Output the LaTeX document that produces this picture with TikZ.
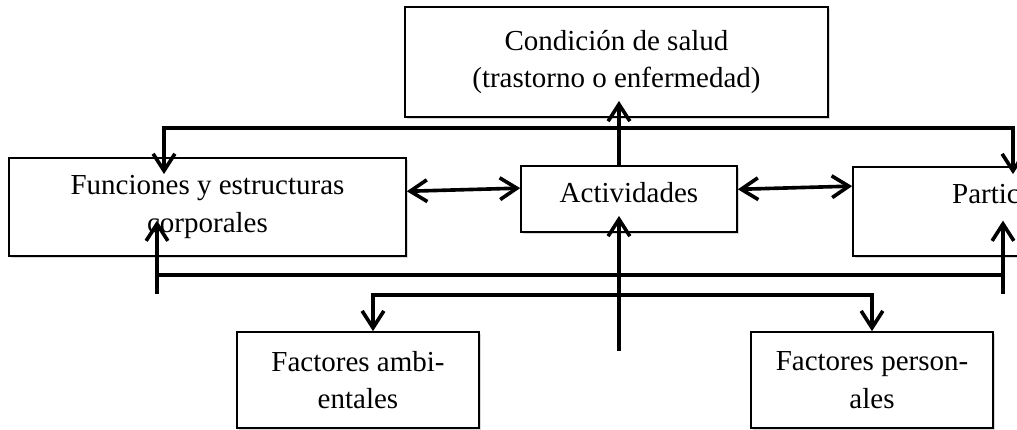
\documentclass[tikz,border=0pt]{standalone}
\usepackage{fontspec}
\setmainfont{Liberation Serif}
\usetikzlibrary{
	calc,
	arrows.meta,
	shadows
}
\newcommand{\pix}{0.4138pt}

\begin{document}
\begin{tikzpicture}[x=\pix, y=-\pix,
			framed/.style={rectangle, draw=black, line width=0.7pt, fill=white, inner sep=0, align=center,
				font=\fontsize{12}{15.5}\selectfont,
				drop shadow={shadow xshift=1pt, shadow yshift=-1pt, opacity=0.3}},
			bus/.style={line width=1.5pt},
			arrow/.style={bus, -{Straight Barb[length=7pt,width=9pt]}},
			twoway/.style={bus, {Straight Barb[length=7pt,width=9pt]}-{Straight Barb[length=7pt,width=9pt]}}]

			\path[use as bounding box] (0,0) rectangle (1017,430);
			\clip (0,0) rectangle (1017,430);

			\node[framed, minimum width=423*\pix, minimum height=110*\pix] (cond) at (616.5,62) {Condición de salud\\(trastorno o enfermedad)};
			\node[framed, minimum width=397*\pix, minimum height=98*\pix] (func) at (207.5,207) {Funciones y estructuras\\corporales};
			\node[framed, minimum width=216*\pix, minimum height=66*\pix, text height=8.5pt, text depth=5.2pt] (act) at (629,199) {Actividades};
			\node[framed, minimum width=266*\pix, minimum height=89*\pix, text height=8pt, text depth=15pt] (part) at (986,211.5) {Partic};
			\node[framed, minimum width=242*\pix, minimum height=96*\pix] (amb) at (358,380) {Factores ambi-\\entales};
			\node[framed, minimum width=242*\pix, minimum height=96*\pix] (pers) at (872,380) {Factores person-\\ales};

			\coordinate (tl) at (164,128);
			\coordinate (tr) at (1013,128);
			\coordinate (ll) at (157,275);
			\coordinate (lr) at (1003,275);
			\coordinate (bl) at (157,294);
			\coordinate (br) at (1003,294);
			\coordinate (fl) at (373,295);
			\coordinate (fr) at (872,295);
			\coordinate (env) at (619,351);

			\draw[twoway] ([yshift=-7pt]func.north -| tl) -- (tl) -- (tr) -- ([yshift=-3.3pt]part.north -| tr);
			\draw[arrow] (act.north -| env) -- ([yshift=7pt]cond.south -| env);
			\draw[twoway] ([yshift=6.5pt]func.east) -- ([yshift=4.5pt]act.west);
			\draw[twoway] ([yshift=4pt]act.east) -- ([yshift=10.5pt]part.west);
			\draw[bus] (ll) -- (lr);
			\draw[arrow] (bl) -- ([yshift=15pt]func.south -| bl);
			\draw[arrow] (br) -- ([yshift=15pt]part.south -| br);
			\draw[arrow] (env) -- ([yshift=7pt]act.south -| env);
			\draw[twoway] (amb.north -| fl) -- (fl) -- (fr) -- (pers.north);
		\end{tikzpicture}
\end{document}
